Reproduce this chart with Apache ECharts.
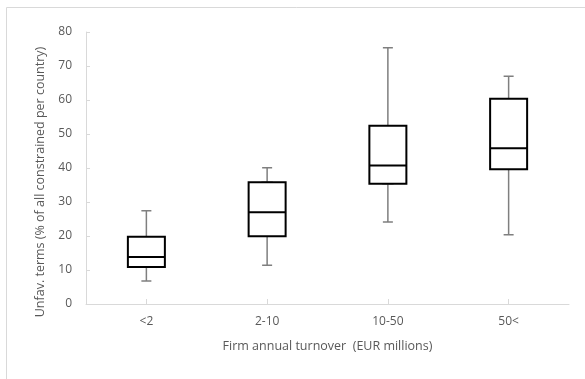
<!DOCTYPE html>
<html><head><meta charset="utf-8">
<script src="https://cdn.jsdelivr.net/npm/echarts@6/dist/echarts.min.js"></script>
<style>html,body{margin:0;padding:0;background:#fff}#c{width:585px;height:379px}</style>
</head><body><div id="c"></div>
<script>
var categories = ['<2', '2-10', '10-50', '50<'];
var minVals = [6.8, 11.4, 24.1, 20.4];
var q1Vals = [10.9, 19.9, 35.4, 39.6];
var medVals = [13.8, 27.0, 40.7, 45.8];
var q3Vals = [19.8, 35.8, 52.4, 60.4];
var maxVals = [27.4, 40.1, 75.4, 67.0];
var yTicks = [0, 80, 10];

var whiskerData = categories.map(function (c, i) { return [minVals[i], q1Vals[i], medVals[i], q3Vals[i], maxVals[i]]; });
var boxData = categories.map(function (c, i) { return [q1Vals[i], q1Vals[i], medVals[i], q3Vals[i], q3Vals[i]]; });

var font = 'Open Sans';
var txt = '#595959';
var chart = echarts.init(document.getElementById('c'), null, {renderer: 'canvas'});
chart.setOption({
  animation: false,
  graphic: [{type: 'rect', shape: {x: 6.5, y: 7.5, width: 600, height: 400}, style: {fill: 'none', stroke: '#d9d9d9', lineWidth: 1}, z: -1}],
  grid: {left: 86, right: 16, top: 32, bottom: 75},
  xAxis: [{
    type: 'category', data: categories,
    name: 'Firm annual turnover  (EUR millions)', nameLocation: 'middle', nameGap: 36,
    nameTextStyle: {color: txt, fontFamily: font, fontSize: 12.5},
    axisLine: {lineStyle: {color: '#d9d9d9', width: 1}},
    axisTick: {show: true, inside: true, alignWithLabel: true, length: 5, lineStyle: {color: '#d9d9d9'}},
    axisLabel: {color: txt, fontFamily: font, fontSize: 12, margin: 12},
    splitLine: {show: false}
  }, {
    type: 'category', data: categories, show: false
  }],
  yAxis: {
    type: 'value', min: yTicks[0], max: yTicks[1], interval: yTicks[2],
    name: 'Unfav. terms (% of all constrained per country)', nameLocation: 'middle', nameGap: 37,
    nameTextStyle: {color: txt, fontFamily: font, fontSize: 12.5, padding: [0, 28, 0, 0]},
    axisLine: {show: true, lineStyle: {color: '#d9d9d9', width: 1}},
    axisTick: {show: true, inside: true, length: 4, lineStyle: {color: '#d9d9d9'}},
    axisLabel: {color: txt, fontFamily: font, fontSize: 12, margin: 14},
    splitLine: {show: false}
  },
  series: [{
    type: 'boxplot', xAxisIndex: 0, data: whiskerData, boxWidth: [10, 10],
    itemStyle: {color: '#fff', borderColor: '#7f7f7f', borderWidth: 1.5}, z: 2
  }, {
    type: 'boxplot', xAxisIndex: 1, data: boxData, boxWidth: [37, 37],
    itemStyle: {color: '#fff', borderColor: '#000', borderWidth: 2}, z: 3
  }]
});
</script></body></html>
